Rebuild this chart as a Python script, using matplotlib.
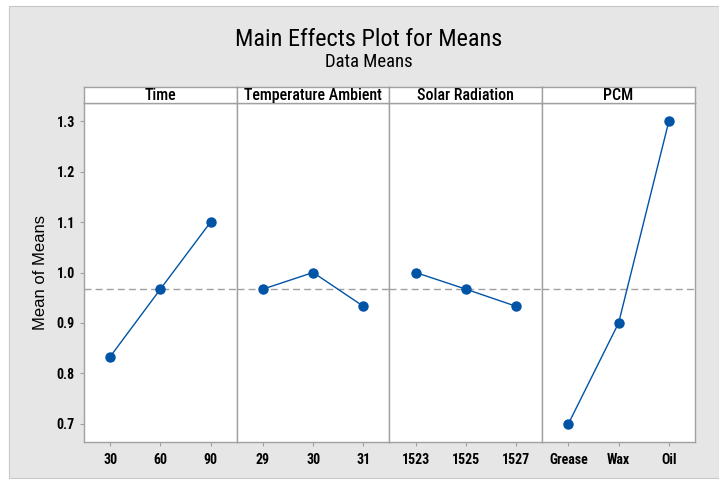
import matplotlib
matplotlib.use("Agg")
import matplotlib.pyplot as plt
from matplotlib.patches import Rectangle

# data
factors = ["Time", "Temperature Ambient", "Solar Radiation", "PCM"]
time_levels = ["30", "60", "90"]
time_means = [0.833, 0.967, 1.100]
temp_levels = ["29", "30", "31"]
temp_means = [0.967, 1.000, 0.933]
solar_levels = ["1523", "1525", "1527"]
solar_means = [1.000, 0.967, 0.933]
pcm_levels = ["Grease", "Wax", "Oil"]
pcm_means = [0.700, 0.900, 1.300]
grand_mean = 0.967
yticks = [0.7, 0.8, 0.9, 1.0, 1.1, 1.2, 1.3]

levels = [time_levels, temp_levels, solar_levels, pcm_levels]
means = [time_means, temp_means, solar_means, pcm_means]

W, H = 719, 482
fig = plt.figure(figsize=(W / 100, H / 100), dpi=100)
fig.patch.set_facecolor("white")
fig.patches.append(Rectangle((9 / W, 4 / H), (W - 9) / W, (H - 10) / H,
                             transform=fig.transFigure, facecolor="#e6e6e6",
                             edgecolor="#c8c8c8", lw=0.8, zorder=-10))

narrow = "Roboto Condensed"
line_col = "#0054a6"
frame_col = "#a0a0a0"

left, right, top, bottom = 84, 695, 103, 442
pw = (right - left) / 4
head_top = 87

for i in range(4):
    x0 = (left + i * pw) / W
    ax = fig.add_axes([x0, (H - bottom) / H, pw / W, (bottom - top) / H])
    xs = list(range(len(levels[i])))
    ax.axhline(grand_mean, color="#a0a0a0", ls=(0, (5, 3)), lw=1.0, zorder=1)
    ax.plot(xs, means[i], color=line_col, lw=1.0, marker="o", ms=6.5,
            zorder=3)
    ax.set_xlim(-0.52, 2.52)
    ax.set_ylim(0.664, 1.336)
    ax.set_xticks(xs)
    ax.set_xticklabels(levels[i], family=narrow, fontsize=10, fontweight="semibold")
    ax.set_yticks(yticks)
    if i == 0:
        ax.set_yticklabels(["%.1f" % v for v in yticks], family=narrow,
                           fontsize=10, fontweight="semibold")
        ax.set_ylabel("Mean of Means", family="Liberation Sans", fontsize=12,
                      labelpad=6)
    else:
        ax.tick_params(axis="y", left=False, labelleft=False)
    ax.tick_params(colors=frame_col, labelcolor="black", length=3, width=0.8)
    ax.tick_params(axis="x", pad=5)
    for s in ax.spines.values():
        s.set_color(frame_col)
        s.set_linewidth(1.0)
    ax.set_facecolor("white")

    hx = fig.add_axes([x0, (H - top) / H, pw / W, (top - head_top) / H])
    hx.set_xticks([])
    hx.set_yticks([])
    hx.set_facecolor("white")
    for s in hx.spines.values():
        s.set_color(frame_col)
        s.set_linewidth(1.0)
    hx.text(0.5, 0.45, factors[i], ha="center", va="center",
            family=narrow, fontsize=11.5, fontweight="medium",
            transform=hx.transAxes)

fig.text(369 / W, 1 - 39 / H, "Main Effects Plot for Means", ha="center",
         va="center", family=narrow, fontsize=17.5)
fig.text(369 / W, 1 - 62 / H, "Data Means", ha="center", va="center",
         family=narrow, fontsize=13.5)

fig.savefig("out.png", dpi=100)
